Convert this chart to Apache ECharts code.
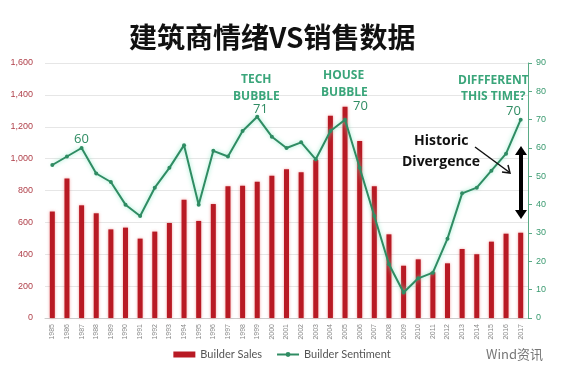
<!DOCTYPE html>
<html>
<head>
<meta charset="utf-8">
<script src="https://cdn.jsdelivr.net/npm/echarts@6/dist/echarts.min.js"></script>
<style>
  html, body { margin: 0; padding: 0; background: #fff; }
  #chart { width: 564px; height: 376px; }
</style>
</head>
<body>
<div id="chart"></div>
<script>
// data
var years = ['1985','1986','1987','1988','1989','1990','1991','1992','1993','1994','1995',
  '1996','1997','1998','1999','2000','2001','2002','2003','2004','2005','2006','2007',
  '2008','2009','2010','2011','2012','2013','2014','2015','2016','2017'];
var builderSales = [668, 876, 707, 657, 556, 567, 498, 542, 596, 742, 609,
  715, 826, 830, 855, 893, 933, 914, 991, 1269, 1326, 1110, 826,
  525, 328, 368, 287, 343, 433, 400, 479, 529, 535];
var builderSentiment = [54, 57, 60, 51, 48, 40, 36, 46, 53, 61, 40,
  59, 57, 66, 71, 64, 60, 62, 56, 66, 70, 53, 36,
  19, 9, 14, 16, 28, 44, 46, 52, 58, 70];
var salesTicks = [0, 200, 400, 600, 800, 1000, 1200, 1400, 1600];

var green = '#2f8c63';
var chart = echarts.init(document.getElementById('chart'));

function note(x, y, text, opts) {
  return {
    type: 'text', left: x, top: y, z: 100,
    style: Object.assign({
      text: text, fill: '#3aa57a', font: 'bold 12px "Open Sans", sans-serif'
    }, opts || {})
  };
}
var numFont = '13px "Open Sans", sans-serif';
var blackFont = 'bold 14px "Open Sans", sans-serif';

chart.setOption({
  backgroundColor: '#fff',
  title: {
    text: '建筑商情绪VS销售数据',
    left: 124, top: 18,
    textStyle: { fontFamily: '"Noto Sans CJK SC", sans-serif', fontSize: 28, fontWeight: 'bold', color: '#111' }
  },
  grid: { left: 45, right: 36, top: 63, bottom: 58 },
  legend: {
    bottom: 11, left: 'center', itemGap: 14, itemWidth: 22, itemHeight: 6,
    textStyle: { fontFamily: 'Lato, sans-serif', fontSize: 11, color: '#555' },
    data: [
      { name: 'Builder Sales', icon: 'rect' },
      { name: 'Builder Sentiment' }
    ]
  },
  xAxis: {
    type: 'category', data: years,
    axisLine: { lineStyle: { color: '#ccc' } },
    axisTick: { show: false },
    axisLabel: { rotate: 90, fontSize: 7, color: '#888', margin: 6, interval: 0 }
  },
  yAxis: [
    {
      type: 'value', min: 0, max: 1600, interval: 200,
      axisLine: { show: false }, axisTick: { show: false },
      splitLine: { lineStyle: { color: '#e6e6e6' } },
      axisLabel: {
        fontSize: 9, color: '#b0404a', margin: 12,
        formatter: function (v) { return v.toLocaleString('en-US'); }
      }
    },
    {
      type: 'value', min: 0, max: 90, interval: 10,
      axisLine: { show: true, lineStyle: { color: '#5aab86' } },
      axisTick: { show: true, length: 4, lineStyle: { color: '#5aab86' } },
      splitLine: { show: false },
      axisLabel: { fontSize: 9, color: '#3a9a70', margin: 8 }
    }
  ],
  series: [
    {
      name: 'Builder Sales', type: 'bar', data: builderSales, barWidth: 5,
      itemStyle: { color: '#b81a24', shadowColor: 'rgba(230,60,60,0.5)', shadowBlur: 3 }
    },
    {
      name: 'Builder Sentiment', type: 'line', yAxisIndex: 1, data: builderSentiment,
      symbol: 'circle', symbolSize: 4, z: 5,
      lineStyle: { color: green, width: 2, shadowColor: 'rgba(120,230,190,0.8)', shadowBlur: 4 },
      itemStyle: { color: green }
    }
  ],
  graphic: [
    note(241, 74, 'TECH'),
    note(233, 91, 'BUBBLE'),
    note(253, 103, '71', { font: numFont, fill: green }),
    note(74, 133, '60', { font: numFont, fill: green }),
    note(323, 70, 'HOUSE'),
    note(321, 87, 'BUBBLE'),
    note(353, 100, '70', { font: numFont, fill: green }),
    note(458, 75, 'DIFFFERENT'),
    note(461, 91, 'THIS TIME?'),
    note(506, 105, '70', { font: numFont, fill: green }),
    note(414, 134, 'Historic', { fill: '#111', font: blackFont }),
    note(402, 155, 'Divergence', { fill: '#111', font: blackFont }),
    {
      type: 'line', z: 100,
      shape: { x1: 475, y1: 147, x2: 509, y2: 172 },
      style: { stroke: '#111', lineWidth: 1.5 }
    },
    {
      type: 'polyline', z: 100,
      shape: { points: [[502, 172], [510, 173], [508, 165]] },
      style: { stroke: '#111', lineWidth: 1.5, fill: null }
    },
    {
      type: 'line', z: 100,
      shape: { x1: 521, y1: 153, x2: 521, y2: 212 },
      style: { stroke: '#000', lineWidth: 4 }
    },
    {
      type: 'polygon', z: 100,
      shape: { points: [[515, 155], [521, 146], [527, 155]] },
      style: { fill: '#000' }
    },
    {
      type: 'polygon', z: 100,
      shape: { points: [[515, 210], [521, 219], [527, 210]] },
      style: { fill: '#000' }
    },
    note(486, 348, 'Wind资讯', { fill: '#777', font: '13px "Noto Sans CJK SC", sans-serif' })
  ]
});
</script>
</body>
</html>
